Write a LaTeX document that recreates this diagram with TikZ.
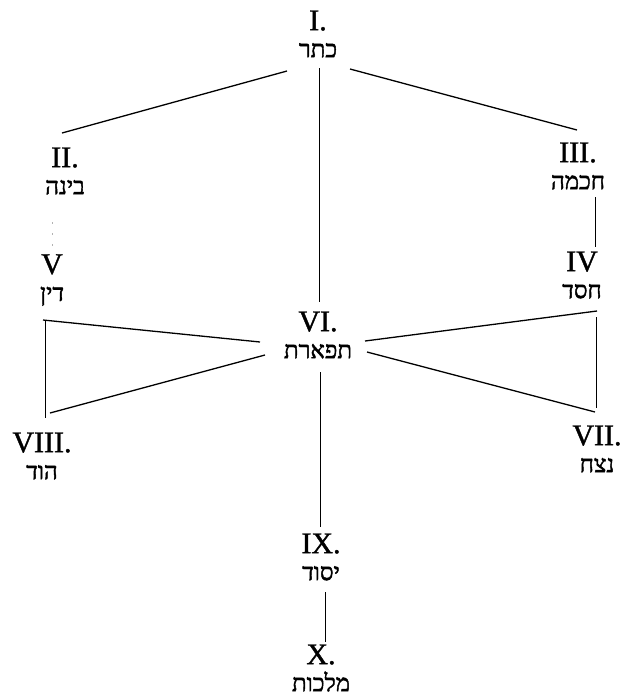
\documentclass[tikz,border=0pt]{standalone}
\usepackage{fontspec}
\setmainfont{Liberation Serif}[FakeBold=1.2]
\newfontfamily\hebfont[Script=Hebrew,FakeBold=1.8]{Liberation Serif}
\TeXXeTstate=1
\newcommand\hebtext[1]{{\hebfont\fontsize{24}{27}\selectfont\beginR #1\endR}}
\begin{document}
\begin{tikzpicture}[x=1pt,y=-1pt,
  seph/.style={align=center,inner sep=0pt,font=\fontsize{30}{27}\selectfont},
  link/.style={line width=1.3pt,black},
  vlink/.style={line width=1pt,black},
  faint/.style={line width=0.8pt,black!30,dash pattern=on 2pt off 9pt}]
\useasboundingbox[fill=white] (0,0) rectangle (624,697);
% sephirot
\node[seph] (I)    at (318,34)  {I.\\\hebtext{כתר}};
\node[seph] (II)   at (65,171)  {II.\\\hebtext{בינה}};
\node[seph] (III)  at (578,166) {III.\\\hebtext{חכמה}};
\node[seph] (IV)   at (582,275) {IV\\\hebtext{חסד}};
\node[seph] (V)    at (52,280)  {V\\\hebtext{דין}};
\node[seph] (VI)   at (318,335) {VI.\\\hebtext{תפארת}};
\node[seph] (VII)  at (597,449) {VII.\\\hebtext{נצח}};
\node[seph] (VIII) at (42,456)  {VIII.\\\hebtext{הוד}};
\node[seph] (IX)   at (321,557) {IX.\\\hebtext{יסוד}};
\node[seph] (X)    at (321,668) {X.\\\hebtext{מלכות}};
% connectors
\draw[link]  ([shift={(-31,37)}]I.center) -- ([shift={(-3,-38)}]II.center);
\draw[link]  ([shift={(32,35)}]I.center) -- ([shift={(-1,-36)}]III.center);
\draw[vlink] ([shift={(1,34)}]I.center) -- ([shift={(1,-33)}]VI.center);
\draw[vlink] ([shift={(17,31)}]III.center) -- ([shift={(13,-28)}]IV.center);
\draw[faint] ([shift={(-13,51)}]II.center) -- ([shift={(0,-28)}]V.center);
\draw[link]  ([shift={(-9,40)}]V.center) -- ([shift={(-58,7)}]VI.center);
\draw[vlink] ([shift={(-7,40)}]V.center) -- ([shift={(3,-38)}]VIII.center);
\draw[link]  ([shift={(8,-43)}]VIII.center) -- ([shift={(-53,20)}]VI.center);
\draw[link]  ([shift={(47,6)}]VI.center) -- ([shift={(15,36)}]IV.center);
\draw[vlink] ([shift={(14,42)}]IV.center) -- ([shift={(-1,-41)}]VII.center);
\draw[link]  ([shift={(49,17)}]VI.center) -- ([shift={(-2,-37)}]VII.center);
\draw[vlink] ([shift={(2,37)}]VI.center) -- ([shift={(-1,-30)}]IX.center);
\draw[vlink] ([shift={(4,35)}]IX.center) -- ([shift={(4,-26)}]X.center);
\end{tikzpicture}
\end{document}
